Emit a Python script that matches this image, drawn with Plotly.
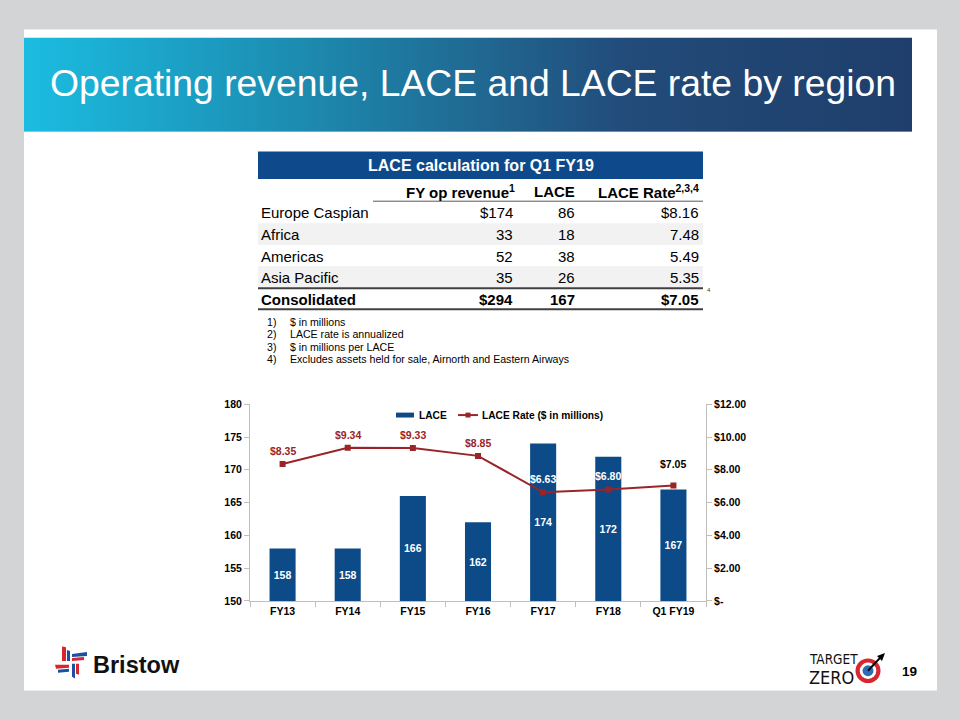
import base64
import plotly.graph_objects as go

W, H = 960, 720

# ---------------- data ----------------
categories = ["FY13", "FY14", "FY15", "FY16", "FY17", "FY18", "Q1 FY19"]
lace_values = [158, 158, 166, 162, 174, 172, 167]
lace_rates = [8.35, 9.34, 9.33, 8.85, 6.63, 6.80, 7.05]

left_tickvals = [150, 155, 160, 165, 170, 175, 180]
right_tickvals = [0, 2, 4, 6, 8, 10, 12]
right_ticktext = ["$-", "$2.00", "$4.00", "$6.00", "$8.00", "$10.00", "$12.00"]

table_title = "LACE calculation for Q1 FY19"
table_columns = ["FY op revenue<sup>1</sup>", "LACE", "LACE Rate<sup>2,3,4</sup>"]
table_regions = ["Europe Caspian", "Africa", "Americas", "Asia Pacific"]
table_revenue = [174, 33, 52, 35]
table_lace = [86, 18, 38, 26]
table_rate = [8.16, 7.48, 5.49, 5.35]
total_label = "Consolidated"
total_revenue = 294
total_lace = 167
total_rate = 7.05

footnotes = [
    "$ in millions",
    "LACE rate is annualized",
    "$ in millions per LACE",
    "Excludes assets held for sale, Airnorth and Eastern Airways",
]

slide_title = "Operating revenue, LACE and LACE rate by region"
page_number = "19"

# ---------------- styles ----------------
FONT = "Liberation Sans, Arial, Helvetica, sans-serif"
NARROW = "Liberation Sans Narrow, Arial Narrow, DejaVu Sans Condensed, sans-serif"
BLUE = "#0c4a88"
RED = "#9b2428"
AXIS_GRAY = "#bfbfbf"
rate_label_colors = [RED, RED, RED, RED, "white", "white", "black"]
rate_label_shift = [13, 13, 13, 13, 13, 13, 21]

AXIS_MIN = left_tickvals[0]


def X(px):
    return px / W


def Y(py):
    return 1 - py / H


def svg_uri(svg):
    return "data:image/svg+xml;base64," + base64.b64encode(svg.encode()).decode()


fig = go.Figure()

# bars drawn from the axis floor so that the inside labels sit in the visible part
fig.add_trace(go.Bar(
    x=categories, y=[v - AXIS_MIN for v in lace_values], base=AXIS_MIN, name="LACE",
    marker=dict(color=BLUE, line=dict(width=0)),
    text=[str(v) for v in lace_values], customdata=lace_values,
    hovertemplate="%{x}: %{customdata}<extra>LACE</extra>",
    textposition="inside", insidetextanchor="middle", textangle=0,
    textfont=dict(family=FONT, size=10.5, color="white", weight="bold"),
    showlegend=False,
))
fig.add_trace(go.Scatter(
    x=categories, y=lace_rates, name="LACE Rate ($ in millions)", yaxis="y2",
    mode="lines+markers",
    line=dict(color=RED, width=2),
    marker=dict(symbol="square", size=6, color=RED),
    showlegend=False,
))

annotations = []
shapes = []
images = []

# slide background
shapes.append(dict(type="rect", xref="paper", yref="paper", x0=X(24), x1=X(937), y0=Y(24), y1=Y(696),
                   fillcolor="white", line=dict(width=0), layer="below"))

# title bar gradient
grad_svg = ('<svg xmlns="http://www.w3.org/2000/svg" width="888" height="96" viewBox="0 0 888 96" '
            'preserveAspectRatio="none"><defs><linearGradient id="g" x1="0" x2="1" y1="0" y2="0">'
            '<stop offset="0" stop-color="#1bbce1"/><stop offset="0.33" stop-color="#1d88ad"/>'
            '<stop offset="0.68" stop-color="#224b79"/><stop offset="1" stop-color="#1f3e6b"/>'
            '</linearGradient></defs><rect width="888" height="96" fill="url(#g)"/></svg>')
images.append(dict(source=svg_uri(grad_svg), xref="paper", yref="paper", x=X(24), y=Y(32),
                   sizex=888 / W, sizey=96 / H, xanchor="left", yanchor="top", sizing="stretch", layer="above"))
annotations.append(dict(text=slide_title, xref="paper", yref="paper", x=X(48), y=Y(78),
                        xanchor="left", yanchor="middle", showarrow=False,
                        font=dict(family=FONT, size=37.3, color="white")))

# ---------------- table ----------------
TL, TR = 258, 703
shapes.append(dict(type="rect", xref="paper", yref="paper", x0=X(TL), x1=X(TR), y0=Y(148), y1=Y(176),
                   fillcolor="#0e4a8b", line=dict(width=0)))
annotations.append(dict(text="<b>" + table_title + "</b>", xref="paper", yref="paper", x=X((TL + TR) / 2), y=Y(162),
                        xanchor="center", yanchor="middle", showarrow=False,
                        font=dict(family=FONT, size=16, color="white")))
col_right = [517, 577, 701]
for txt, cx in zip(table_columns, col_right):
    annotations.append(dict(text="<b>" + txt + "</b>", xref="paper", yref="paper", x=X(cx), y=Y(189),
                            xanchor="right", yanchor="middle", showarrow=False,
                            font=dict(family=FONT, size=15, color="black")))
shapes.append(dict(type="line", xref="paper", yref="paper", x0=X(373), x1=X(TR), y0=Y(198.5), y1=Y(198.5),
                   line=dict(color="#595959", width=1)))
row_top = [199, 221, 243, 264.5]
row_bot = [221, 243, 264.5, 286]
for i, region in enumerate(table_regions):
    if i % 2 == 1:
        shapes.append(dict(type="rect", xref="paper", yref="paper", x0=X(TL), x1=X(TR),
                           y0=Y(row_top[i]), y1=Y(row_bot[i]), fillcolor="#f2f2f2", line=dict(width=0),
                           layer="below"))
    yc = (row_top[i] + row_bot[i]) / 2 + 0.5
    rev = ("$%d" % table_revenue[i]) if i == 0 else str(table_revenue[i])
    rate = ("$%.2f" % table_rate[i]) if i == 0 else ("%.2f" % table_rate[i])
    cells = [(region, TL + 1, "left"), (rev, 515, "right"), (str(table_lace[i]), 577, "right"), (rate, 701, "right")]
    for txt, cx, anc in cells:
        annotations.append(dict(text=txt, xref="paper", yref="paper", x=X(cx), y=Y(yc),
                                xanchor=anc, yanchor="middle", showarrow=False,
                                font=dict(family=FONT, size=15, color="black")))
shapes.append(dict(type="line", xref="paper", yref="paper", x0=X(TL), x1=X(TR), y0=Y(287), y1=Y(287),
                   line=dict(color="#404040", width=2)))
shapes.append(dict(type="line", xref="paper", yref="paper", x0=X(TL), x1=X(TR), y0=Y(308.5), y1=Y(308.5),
                   line=dict(color="#404040", width=2)))
tot_cells = [(total_label, TL + 1, "left"), ("$%d" % total_revenue, 515, "right"),
             (str(total_lace), 577, "right"), ("$%.2f" % total_rate, 701, "right")]
for txt, cx, anc in tot_cells:
    annotations.append(dict(text="<b>" + txt + "</b>", xref="paper", yref="paper", x=X(cx), y=Y(298),
                            xanchor=anc, yanchor="middle", showarrow=False,
                            font=dict(family=FONT, size=15, color="black")))
annotations.append(dict(text="4", xref="paper", yref="paper", x=X(705), y=Y(289),
                        xanchor="left", yanchor="middle", showarrow=False,
                        font=dict(family=FONT, size=6, color="#404040")))

# footnotes
for i, note in enumerate(footnotes):
    yc = 321 + i * 12.7
    annotations.append(dict(text="%d)" % (i + 1), xref="paper", yref="paper", x=X(265), y=Y(yc),
                            xanchor="left", yanchor="middle", showarrow=False,
                            font=dict(family=FONT, size=10.6, color="black")))
    annotations.append(dict(text=note, xref="paper", yref="paper", x=X(288), y=Y(yc),
                            xanchor="left", yanchor="middle", showarrow=False,
                            font=dict(family=FONT, size=10.6, color="black")))

# ---------------- chart labels ----------------
for cat, r, col, sh in zip(categories, lace_rates, rate_label_colors, rate_label_shift):
    annotations.append(dict(text="$%.2f" % r, x=cat, y=r, xref="x", yref="y2", yshift=sh,
                            showarrow=False, xanchor="center", yanchor="middle",
                            font=dict(family=FONT, size=10.5, color=col, weight="bold")))

# custom legend
shapes.append(dict(type="rect", xref="paper", yref="paper", x0=X(396), x1=X(414), y0=Y(413.5), y1=Y(418.5),
                   fillcolor=BLUE, line=dict(width=0)))
annotations.append(dict(text="<b>LACE</b>", xref="paper", yref="paper", x=X(416.5), y=Y(416),
                        xanchor="left", yanchor="middle", showarrow=False,
                        font=dict(family=FONT, size=10.2, color="black")))
shapes.append(dict(type="line", xref="paper", yref="paper", x0=X(458), x1=X(478), y0=Y(416), y1=Y(416),
                   line=dict(color=RED, width=2)))
shapes.append(dict(type="rect", xref="paper", yref="paper", x0=X(465.5), x1=X(470.5), y0=Y(413.5), y1=Y(418.5),
                   fillcolor=RED, line=dict(width=0)))
annotations.append(dict(text="<b>LACE Rate ($ in millions)</b>", xref="paper", yref="paper", x=X(479.5), y=Y(416),
                        xanchor="left", yanchor="middle", showarrow=False,
                        font=dict(family=FONT, size=10.2, color="black")))

# ---------------- logos ----------------
pin_svg = ('<svg xmlns="http://www.w3.org/2000/svg" width="34" height="34" viewBox="0 0 34 34">'
           '<polygon points="8,0 12,1 12,15 8,15" fill="#d6262e"/>'
           '<polygon points="13,4 16,5 16,15 13,15" fill="#1f4fa0"/>'
           '<polygon points="18,8 33,6 33,10 18,11" fill="#1f4fa0"/>'
           '<polygon points="18,12 30,11 30,14 18,15" fill="#d6262e"/>'
           '<polygon points="1,19 15,19 15,22 2,23" fill="#d6262e"/>'
           '<polygon points="4,24 15,23 15,26 4,27" fill="#1f4fa0"/>'
           '<polygon points="18,18 21,18 21,33 18,31" fill="#1f4fa0"/>'
           '<polygon points="22,18 25,18 25,29 22,28" fill="#d6262e"/>'
           '</svg>')
images.append(dict(source=svg_uri(pin_svg), xref="paper", yref="paper", x=X(54), y=Y(651),
                   sizex=34 / W, sizey=34 / H, xanchor="left", yanchor="top", sizing="stretch", layer="above"))
annotations.append(dict(text="Bristow", xref="paper", yref="paper", x=X(91), y=Y(670),
                        xanchor="left", yanchor="middle", showarrow=False,
                        font=dict(family=FONT, size=23.5, color="#111111", weight="bold")))

tgt_svg = ('<svg xmlns="http://www.w3.org/2000/svg" width="40" height="40" viewBox="0 0 40 40">'
           '<circle cx="13" cy="24" r="12.5" fill="#d8262f"/>'
           '<circle cx="13" cy="24" r="8.3" fill="white"/>'
           '<circle cx="13" cy="24" r="5.5" fill="#2a6fb3"/>'
           '<line x1="13" y1="24" x2="25" y2="11" stroke="black" stroke-width="2"/>'
           '<polygon points="22,9 30,6 27,14" fill="black"/>'
           '</svg>')
images.append(dict(source=svg_uri(tgt_svg), xref="paper", yref="paper", x=X(855), y=Y(652),
                   sizex=40 / W, sizey=40 / H, xanchor="left", yanchor="top", sizing="stretch", layer="above"))
annotations.append(dict(text="TARGET", xref="paper", yref="paper", x=X(807), y=Y(664),
                        xanchor="left", yanchor="middle", showarrow=False,
                        font=dict(family=NARROW, size=13.5, color="#111111")))
annotations.append(dict(text="ZERO", xref="paper", yref="paper", x=X(807), y=Y(683),
                        xanchor="left", yanchor="middle", showarrow=False,
                        font=dict(family=NARROW, size=18, color="#111111")))
annotations.append(dict(text="<b>" + page_number + "</b>", xref="paper", yref="paper", x=X(909), y=Y(677),
                        xanchor="center", yanchor="middle", showarrow=False,
                        font=dict(family=FONT, size=13.5, color="black")))

tickfont = dict(family=FONT, size=10.5, color="black", weight="bold")
fig.update_layout(
    width=W, height=H,
    margin=dict(l=0, r=0, t=0, b=0),
    paper_bgcolor="#d3d4d6",
    plot_bgcolor="rgba(0,0,0,0)",
    bargap=0.6,
    showlegend=False,
    xaxis=dict(domain=[X(250), X(706)], type="category", showline=True, linecolor=AXIS_GRAY, linewidth=1,
               ticks="outside", tickson="boundaries", ticklen=5, tickcolor=AXIS_GRAY,
               tickfont=tickfont, showgrid=False, zeroline=False, fixedrange=True),
    yaxis=dict(domain=[Y(605), Y(405)], range=[150, 180], tickvals=left_tickvals, showline=True,
               linecolor=AXIS_GRAY, ticks="outside", ticklen=5, tickcolor=AXIS_GRAY,
               tickfont=tickfont, showgrid=False, zeroline=False),
    yaxis2=dict(overlaying="y", side="right", range=[0, 12], tickvals=right_tickvals, ticktext=right_ticktext,
                showline=True, linecolor=AXIS_GRAY, ticks="outside", ticklen=5, tickcolor=AXIS_GRAY,
                tickfont=tickfont, showgrid=False, zeroline=False),
    annotations=annotations,
    shapes=shapes,
    images=images,
)

fig.write_html("out.html")
